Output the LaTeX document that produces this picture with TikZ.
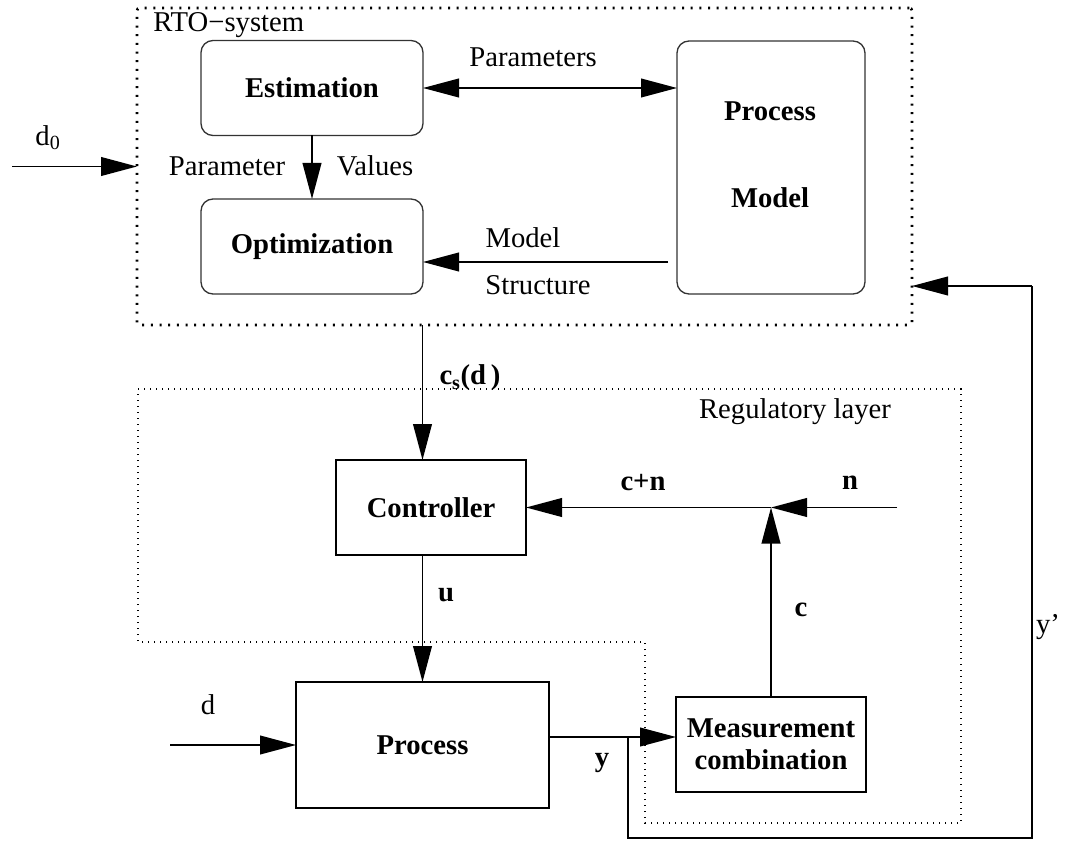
\documentclass[tikz,border=0pt]{standalone}
\usepackage{fontspec}
\setmainfont{Liberation Serif}
\usetikzlibrary{arrows.meta,calc}
\begin{document}
\begin{tikzpicture}[x=0.75pt,y=-0.75pt,
  every node/.style={font=\fontsize{21.5}{24}\selectfont},
  lbl/.style={inner sep=0pt},
  bl/.style={inner sep=0pt,font=\fontsize{21.5}{24}\selectfont\bfseries},
  rbox/.style={draw=black!80,line width=1pt,rounded corners=9pt,outer sep=0pt,inner sep=0pt,
    font=\fontsize{21.5}{24}\selectfont\bfseries},
  sbox/.style={draw,line width=1.3pt,outer sep=0pt,inner sep=0pt,align=center,
    font=\fontsize{21.5}{24}\selectfont\bfseries},
  rto/.style={draw,line width=2pt,dash pattern=on 1.5pt off 5pt,rounded corners=2pt,
    outer sep=0pt,inner sep=0pt,minimum width=581.25pt,minimum height=237.75pt},
  reg/.style={line width=1pt,dash pattern=on 1pt off 3.5pt},
  tip/.tip={Triangle[length=27pt,width=14pt]},
  conn/.style={line width=1.4pt,-tip},
  wire/.style={line width=1.4pt}]
\useasboundingbox (0,0) rectangle (1066,841);

% RTO system
\node[rto] (rto) at (524.5,166.5) {};
\node[lbl,anchor=west] (rtolbl) at (153,25) {RTO−system};
\node[rbox,minimum width=166.5pt,minimum height=71.25pt] (est) at (312,88) {Estimation};
\node[rbox,minimum width=166.5pt,minimum height=71.25pt] (opt) at (312,246.5) {Optimization};
\node[rbox,minimum width=141pt,minimum height=189.75pt] (pm) at (771,167.5) {};
\node[bl] (pmt1) at (770,111) {Process};
\node[bl] (pmt2) at (770,198) {Model};

\draw[line width=1.4pt,tip-tip] (est.east) -- (pm.west |- est.east);
\node[lbl] (parlbl) at (533,57) {Parameters};
\draw[conn] (est.south) -- (opt.north);
\node[lbl] (pv1) at (227,166) {Parameter};
\node[lbl] (pv2) at (375,166) {Values};
\coordinate (ms) at (668,262);
\draw[conn] (ms) -- (opt.east |- ms);
\node[lbl] (ml1) at (523,238) {Model};
\node[lbl] (ml2) at (538,285) {Structure};

% d0
\coordinate (d0s) at (12,166.5);
\draw[conn] (d0s) -- (rto.west);
\node[lbl] (d0l) at (48,138) {d$_{\mathrm{0}}$};

% Regulatory layer
\draw[reg] (138,389) -- (961,389) -- (961,823) -- (645,823) -- (645,642) -- (138,642) -- cycle;
\node[lbl] (reglbl) at (795,412) {Regulatory layer};

\node[sbox,minimum width=142.5pt,minimum height=71.25pt] (ctrl) at (431,507.5) {Controller};
\node[sbox,minimum width=189.75pt,minimum height=94.5pt] (proc) at (422.5,745) {Process};
\node[sbox,minimum width=142.5pt,minimum height=71.25pt] (meas) at (771,744.5) {Measurement\\combination};

\draw[conn] (proc.north |- rto.south) -- (proc.north |- ctrl.north);
\node[bl] (csl) at (470,378) {c$_{\mathbf{s}}$(d\,)};
\draw[conn] (proc.north |- ctrl.south) -- (proc.north);
\node[bl] (ul) at (446,595) {u};

\coordinate (junc) at (771,507.5);
\coordinate (nin) at (897,507.5);
\draw[conn] (nin) -- (junc);
\draw[conn] (junc) -- (ctrl.east);
\draw[conn] (meas.north) -- (junc);
\node[bl] (cnl) at (643,483) {c+n};
\node[bl] (nl) at (850,483) {n};
\node[bl] (cl) at (801,610) {c};

\coordinate (ds) at (170,745);
\draw[conn] (ds) -- (proc.west);
\node[lbl] (dl) at (208,705) {d};

\coordinate (yo) at (549.25,737);
\draw[conn] (yo) -- (meas.west |- yo);
\node[bl] (yl) at (602,763) {y};
\coordinate (yb) at (628,737);
\coordinate (yr) at (1032,286);
\draw[wire] (yb) -- (628,838) -- (1032,838) -- (yr);
\draw[conn] (yr) -- (rto.east |- yr);
\node[lbl] (ypl) at (1048,627) {y’};
\end{tikzpicture}
\end{document}
